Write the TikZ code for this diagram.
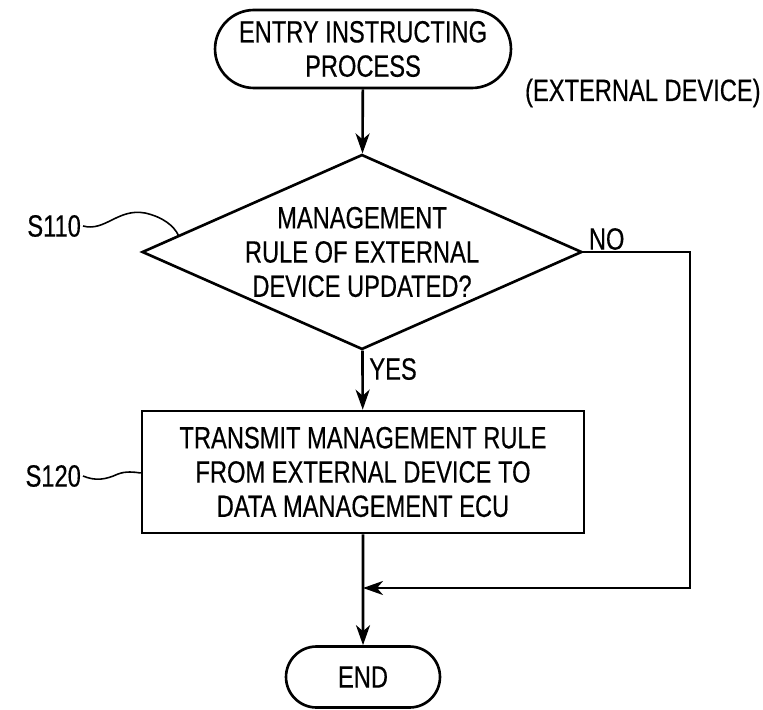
\documentclass[tikz,border=0pt]{standalone}
\usepackage{fontspec}
\setmainfont{Liberation Sans}[FakeStretch=0.77,FakeBold=0.4]
\usetikzlibrary{shapes.geometric,shapes.misc,arrows.meta,calc}
\tikzset{
  flow/.style={line width=1.5pt},
  arr/.style={flow,-{Stealth[length=4mm,width=2.8mm,inset=1.2mm]}},
  term/.style={draw,flow,rounded rectangle,inner sep=0pt,align=center},
  decide/.style={draw,flow,diamond,aspect=2.26,inner sep=0pt,minimum width=8.8cm,minimum height=3.9cm,align=center},
  stepbox/.style={draw,flow,rectangle,inner sep=0pt,minimum width=8.84cm,minimum height=2.44cm,align=center},
  lbl/.style={inner sep=1pt},
  lead/.style={line width=0.9pt}
}
\begin{document}
\begin{tikzpicture}[x=0.02cm,y=-0.02cm,font=\fontsize{17.5}{19.5}\selectfont]
\useasboundingbox (0,0) rectangle (763,709);
\node[term,minimum width=5.92cm,minimum height=1.56cm] (start) at (363,49) {ENTRY INSTRUCTING\\PROCESS};
\node[lbl,anchor=west] (dev) at (523,93) {(EXTERNAL DEVICE)};
\node[decide] (q) at (362,252) {MANAGEMENT\\RULE OF EXTERNAL\\DEVICE UPDATED?};
\node[stepbox] (act) at (363,472) {TRANSMIT MANAGEMENT RULE\\FROM EXTERNAL DEVICE TO\\DATA MANAGEMENT ECU};
\node[term,minimum width=3.08cm,minimum height=1.22cm] (stop) at (363,677) {END};
\node[lbl,anchor=east] (s110) at (83,226) {S110};
\node[lbl,anchor=east] (s120) at (83,476) {S120};
\node[lbl,anchor=south west] (no) at ([xshift=2pt]q.east) {NO};
\node[lbl,anchor=north west] (yes) at ([xshift=3pt,yshift=-3pt]q.south) {YES};
\coordinate (m) at (363,588);
\coordinate (nr) at (690,588);
\coordinate (t110) at ($(q.west)!0.17!(q.north)$);
% connectors
\draw[arr] (start) -- (q);
\draw[arr] (q) -- (act);
\draw[arr] (act) -- (stop);
\draw[arr] (q.east) -| (nr) -- (m);
% step leaders
\draw[lead] (s110.east) .. controls (105,232) and (118,208) .. (145,213) .. controls (163,217) and (174,226) .. (t110);
\draw[lead] (s120.east) .. controls (95,481) and (105,480) .. (118,474) .. controls (126,471) and (134,472) .. (act.west |- 0,473);
\end{tikzpicture}
\end{document}
